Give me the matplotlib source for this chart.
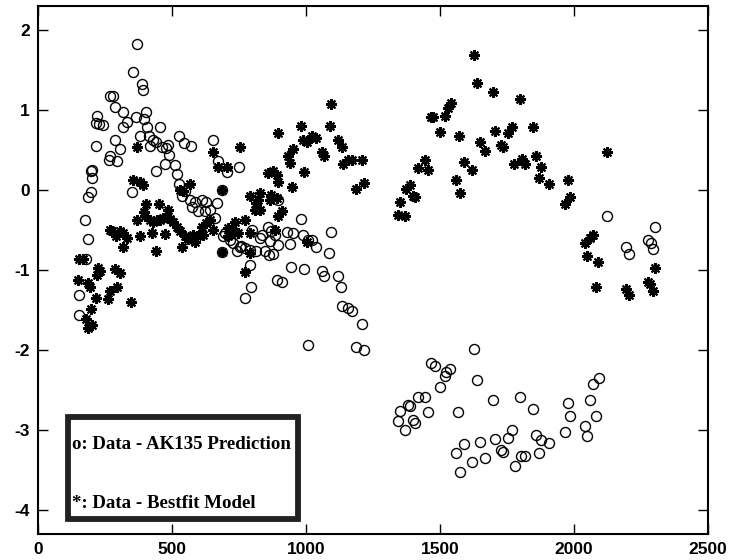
import matplotlib
matplotlib.use("Agg")
import matplotlib.pyplot as plt
from matplotlib.patches import Rectangle
from matplotlib import font_manager

plt.rcParams["axes.unicode_minus"] = False

# ---- data: "o" series (Data - AK135 Prediction) ----
circ_x = [152, 152, 174, 178, 187, 187, 197, 202, 197, 199, 215, 218, 215, 227, 240,
          263, 268, 295, 305, 286, 268, 278, 286, 315, 330, 317, 349, 352, 367, 386,
          392, 365, 402, 395, 407, 454, 380, 414, 429, 439, 419, 461, 477, 485, 489,
          473, 439, 510, 517, 525, 544, 569, 651, 672, 703, 750, 526, 535, 548, 566,
          585, 573, 597, 610, 628, 622, 641, 666, 659, 685, 685, 697, 691, 716, 728,
          753, 741, 759, 771, 790, 797, 790, 793, 771, 815, 828, 834, 846, 862, 875,
          865, 884, 896, 859, 871, 896, 890, 912, 981, 930, 952, 989, 1008, 1021, 940,
          1036, 1095, 1087, 945, 992, 1058, 1068, 1118, 1130, 1136, 1157, 1170, 1209,
          1008, 1186, 1217,
          1468, 1481, 1537, 1524, 1518, 1499, 1628, 1639, 1419, 1446, 1456, 1381, 1390,
          1350, 1344, 1369, 1400, 1406, 1569, 1698, 1798, 1848, 1978, 1985, 2062, 2072,
          2093, 2084, 1969, 2044, 2049, 1590, 1559, 1577, 1622, 1649, 1667, 1705, 1730,
          1736, 1755, 1769, 1779, 1804, 1819, 1860, 1879, 1869, 1908,
          2125, 2302, 2194, 2205, 2277, 2290, 2298]
circ_y = [-1.32, -1.57, -0.38, -0.87, -0.62, -0.09, -0.03, 0.15, 0.23, 0.25, 0.55, 0.925, 0.84, 0.825, 0.81,
          0.37, 0.42, 0.36, 0.51, 0.625, 1.17, 1.175, 1.03, 0.97, 0.85, 0.78, -0.03, 1.47, 1.82, 1.32,
          1.25, 0.91, 0.97, 0.88, 0.78, 0.78, 0.67, 0.67, 0.625, 0.60, 0.55, 0.54, 0.52, 0.56, 0.44,
          0.325, 0.24, 0.31, 0.20, 0.67, 0.59, 0.55, 0.625, 0.36, 0.22, 0.29, 0.07, -0.08, -0.02, -0.125,
          -0.15, -0.21, -0.27, -0.125, -0.15, -0.27, -0.25, -0.17, -0.35, 0.0, -0.78, -0.54, -0.58, -0.625, -0.67,
          -0.71, -0.77, -0.70, -0.73, -0.75, -0.50, -0.94, -1.21, -1.35, -0.76, -0.60, -0.56, -0.77, -0.81, -0.80,
          -0.64, -0.56, -0.69, -0.46, -0.52, -0.125, -1.13, -1.15, -0.36, -0.53, -0.54, -0.56, -0.625, -0.63, -0.675,
          -0.72, -0.53, -0.79, -0.97, -0.99, -1.01, -1.08, -1.075, -1.22, -1.45, -1.48, -1.52, -1.68,
          -1.94, -1.96, -2.0,
          -2.16, -2.20, -2.24, -2.28, -2.33, -2.46, -1.99, -2.38, -2.59, -2.59, -2.77, -2.69, -2.70,
          -2.76, -2.89, -3.0, -2.875, -2.91, -2.78, -2.63, -2.59, -2.74, -2.66, -2.83, -2.625, -2.425,
          -2.35, -2.82, -3.03, -2.95, -3.075, -3.18, -3.29, -3.53, -3.40, -3.15, -3.35, -3.11, -3.25,
          -3.28, -3.10, -3.0, -3.45, -3.32, -3.33, -3.06, -3.125, -3.29, -3.16,
          -0.33, -0.46, -0.72, -0.80, -0.63, -0.67, -0.74]

# ---- data: "*" series (Data - Bestfit Model) ----
star_x = [149, 153, 166, 187, 193, 215, 196, 178, 187, 199, 224, 230, 218, 286, 305,
          295, 268, 259, 348, 771,
          367, 352, 380, 392, 651, 672, 703, 753, 685, 566, 529, 541, 402, 452, 485,
          393, 398, 417, 429, 442, 454, 467, 477, 492, 504, 517, 529, 548, 560, 573,
          579, 591, 585, 616, 610, 628, 641, 654,
          367, 380, 423, 439, 473, 535,
          268, 274, 290, 305, 317, 330, 317,
          790, 828, 821, 815, 809, 828, 865, 871, 890, 896, 884, 912,
          859, 877, 890, 896, 896, 685,
          734, 771, 708, 727, 746, 708, 790, 790, 1002,
          1095, 983, 1089, 989, 1002, 1021, 1039, 1120, 1133, 952, 933, 940, 1058, 1066,
          992, 1138, 1157, 1170, 1211, 946, 1186, 1216,
          1543, 1530, 1518, 1475, 1468, 1499, 1570, 1649, 1667, 1705, 1755, 1771, 1730,
          1736, 1443, 1419, 1456, 1589, 1620, 1559, 1577, 1387, 1375, 1400, 1406, 1350,
          1345, 1369,
          1627, 1639, 1698, 1798, 1848, 1777, 1807, 1819, 1860, 1878, 1869, 1909, 1978,
          1985, 1969, 2125,
          2072, 2062, 2044, 2049, 2090, 2084, 2196, 2206, 2277, 2286, 2298, 2302]
star_y = [-1.125, -0.87, -0.87, -1.17, -1.21, -1.35, -1.49, -1.62, -1.73, -1.69, -0.98, -1.02, -1.06, -0.99, -1.04,
          -1.21, -1.27, -1.37, -1.40, -1.03,
          0.53, 0.125, 0.10, 0.06, 0.47, 0.29, 0.28, 0.54, 0.0, 0.07, 0.0, -0.02, -0.175, -0.175, -0.25,
          -0.28, -0.33, -0.375, -0.40, -0.375, -0.375, -0.35, -0.34, -0.37, -0.40, -0.46, -0.52, -0.58, -0.62, -0.625,
          -0.56, -0.58, -0.65, -0.56, -0.46, -0.42, -0.375, -0.50,
          -0.375, -0.58, -0.54, -0.76, -0.55, -0.71,
          -0.50, -0.52, -0.58, -0.52, -0.54, -0.60, -0.71,
          -0.08, -0.04, -0.125, -0.17, -0.25, -0.25, -0.125, -0.06, -0.10, -0.33, -0.50, -0.26,
          0.21, 0.23, 0.19, 0.10, 0.71, -0.78,
          -0.40, -0.38, -0.48, -0.52, -0.54, -0.58, -0.54, -0.79, -0.65,
          1.075, 0.80, 0.80, 0.625, 0.60, 0.67, 0.65, 0.625, 0.54, 0.51, 0.425, 0.33, 0.47, 0.42,
          0.22, 0.325, 0.375, 0.37, 0.375, 0.04, 0.01, 0.09,
          1.09, 1.02, 0.925, 0.91, 0.91, 0.72, 0.67, 0.60, 0.48, 0.73, 0.71, 0.78, 0.56,
          0.53, 0.375, 0.27, 0.25, 0.35, 0.25, 0.125, -0.04, 0.06, 0.01, -0.08, -0.09, -0.15,
          -0.31, -0.33,
          1.69, 1.33, 1.22, 1.14, 0.79, 0.32, 0.38, 0.32, 0.425, 0.28, 0.15, 0.075, 0.125,
          -0.09, -0.175, 0.47,
          -0.56, -0.60, -0.67, -0.83, -0.90, -1.22, -1.24, -1.32, -1.15, -1.18, -1.26, -0.98]

x_ticks = [0, 500, 1000, 1500, 2000, 2500]
y_ticks = [-4, -3, -2, -1, 0, 1, 2]
legend_lines = ["o: Data - AK135 Prediction", "*: Data - Bestfit Model"]

installed = {f.name for f in font_manager.fontManager.ttflist}
tick_family = "Liberation Sans Narrow" if "Liberation Sans Narrow" in installed else "Liberation Sans"

fig = plt.figure(figsize=(7.30, 5.60), dpi=100)
ax = fig.add_axes([0.0525, 0.0464, 0.9167, 0.9434])

ax.plot(circ_x, circ_y, linestyle="none", marker="o", markersize=7.2,
        markerfacecolor="none", markeredgecolor="black", markeredgewidth=1.0)
ax.plot(star_x, star_y, linestyle="none", marker=(8, 2, 0), markersize=7.8,
        color="black", markeredgewidth=1.5)

ax.set_xlim(0, 2500)
ax.set_ylim(-4.3, 2.3)
ax.set_xticks(x_ticks)
ax.set_yticks(y_ticks)
ax.tick_params(direction="in", length=7, width=1.0, top=True, right=True,
               labelsize=12.5, pad=6)
for lab in ax.get_xticklabels() + ax.get_yticklabels():
    lab.set_fontfamily(tick_family)
    lab.set_fontweight("bold")
for s in ax.spines.values():
    s.set_linewidth(1.5)

# legend box
ax.add_patch(Rectangle((0.0444, 0.0284), 0.3436, 0.1931, transform=ax.transAxes,
                       fill=False, edgecolor="#222222", linewidth=4.2, zorder=5))
ax.text(0.0505, 0.1694, legend_lines[0], transform=ax.transAxes, ha="left", va="center",
        fontfamily="Liberation Serif", fontweight="bold", fontsize=13.6, zorder=6)
ax.text(0.0505, 0.0587, legend_lines[1], transform=ax.transAxes, ha="left", va="center",
        fontfamily="Liberation Serif", fontweight="bold", fontsize=13.6, zorder=6)

fig.savefig("out.png", dpi=100)
